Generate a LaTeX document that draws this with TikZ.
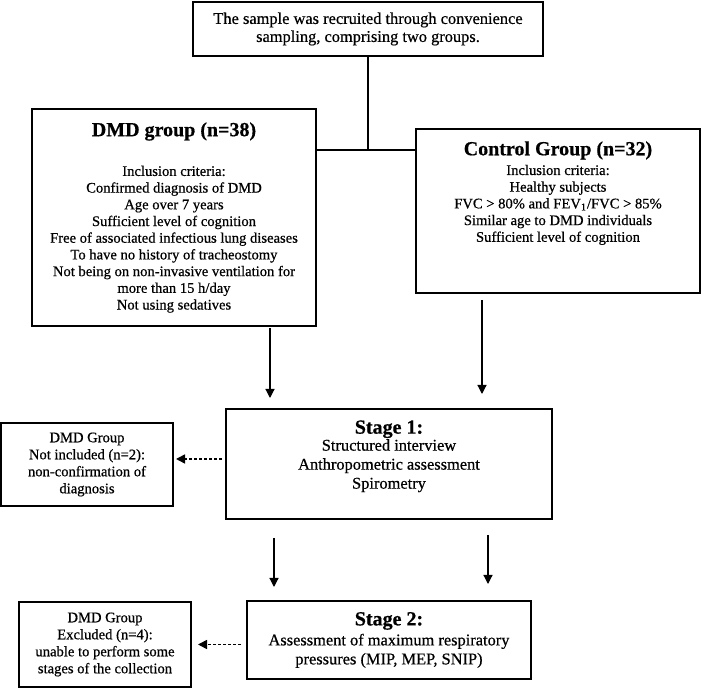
\documentclass[tikz,border=0pt]{standalone}
\usepackage{fontspec}
\setmainfont{Liberation Serif}[FakeBold=0.6]
\usetikzlibrary{arrows.meta,positioning}

\newcommand{\hdr}[1]{{\fontsize{10}{12}\selectfont\bfseries #1}}
\newcommand{\bigtxt}{\fontsize{8.2}{9.5}\selectfont}
\newcommand{\grptxt}{\fontsize{7.3}{8.35}\selectfont}
\newcommand{\sidetxt}{\fontsize{7.3}{8.5}\selectfont}

\tikzset{
  box/.style={draw, line width=0.7pt, anchor=north west, align=center, inner sep=0pt, outer sep=0pt},
  arr/.style={-{Triangle[length=4.5pt,width=4.5pt]}, line width=0.6pt},
  dsharr/.style={arr, line width=0.8pt, dash pattern=on 1.5pt off 1pt},
}

\begin{document}
\begin{tikzpicture}[x=0.5pt,y=-0.5pt]
	\useasboundingbox (0,0) rectangle (702,688);
	% recruitment
	\node[box, minimum width=175pt, minimum height=27pt, font=\fontsize{8.2}{9}\selectfont] (smp) at (193,2) {The sample was recruited through convenience\\sampling, comprising two groups.};
	% the two groups
	\node[box, minimum width=142pt, minimum height=108.5pt, font=\grptxt] (dmd) at (32,109) {\hdr{DMD group (n=38)}\\[11.5pt]Inclusion criteria:\\Confirmed diagnosis of DMD\\Age over 7 years\\Sufficient level of cognition\\Free of associated infectious lung diseases\\To have no history of tracheostomy\\Not being on non-invasive ventilation for\\more than 15 h/day\\Not using sedatives};
	\node[box, minimum width=142pt, minimum height=82pt] (ctrl) at (416,129) {};
	\node[font=\grptxt, align=center, inner sep=0pt, below=6pt of ctrl.north] (ctrltxt) {\hdr{Control Group (n=32)}\\[1.5pt]Inclusion criteria:\\Healthy subjects\\FVC > 80\% and FEV\textsubscript{1}/FVC > 85\%\\Similar age to DMD individuals\\Sufficient level of cognition};
	\coordinate (jn) at (368,150);
	\draw[line width=0.7pt] (smp.south) -- (jn);
	\draw[line width=0.7pt] (dmd.east |- jn) -- (ctrl.west |- jn);
	% stages
	\node[box, minimum width=163pt, minimum height=55pt] (s1) at (226,409) {};
	\node[font=\bigtxt, align=center, inner sep=0pt, below=5.5pt of s1.north] (s1txt) {\hdr{Stage 1:}\\[-1pt]Structured interview\\Anthropometric assessment\\Spirometry};
	\node[box, minimum width=142pt, minimum height=39pt, font=\bigtxt] (s2) at (247,601) {\hdr{Stage 2:}\\[0.5pt]Assessment of maximum respiratory\\pressures (MIP, MEP, SNIP)};
	% losses
	\node[box, minimum width=86pt, minimum height=41.5pt, font=\sidetxt] (ni) at (1,423) {DMD Group\\Not included (n=2):\\non-confirmation of\\diagnosis};
	\node[box, minimum width=86pt, minimum height=42.5pt, font=\sidetxt] (ex) at (19,602) {DMD Group\\Excluded (n=4):\\unable to perform some\\stages of the collection};
	% arrows
	\coordinate (c1) at (270,0);
	\coordinate (c2) at (482,0);
	\coordinate (c3) at (274,0);
	\coordinate (c4) at (488,0);
	\draw[arr, shorten <=1pt, shorten >=5.5pt] (dmd.south -| c1) -- (s1.north -| c1);
	\draw[arr, shorten <=3.5pt, shorten >=7.5pt] (ctrl.south -| c2) -- (s1.north -| c2);
	\draw[arr, shorten <=9.5pt, shorten >=7pt] (s1.south -| c3) -- (s2.north -| c3);
	\draw[arr, shorten <=8pt, shorten >=8.5pt] (s1.south -| c4) -- (s2.north -| c4);
	\coordinate (d1) at ([yshift=2.5pt]s1.west);
	\draw[dsharr, shorten <=2pt, shorten >=1.5pt] (d1) -- (d1 -| ni.east);
	\draw[dsharr, shorten <=3pt, shorten >=3.5pt] (s2.west |- ex.east) -- (ex.east);
\end{tikzpicture}
\end{document}
